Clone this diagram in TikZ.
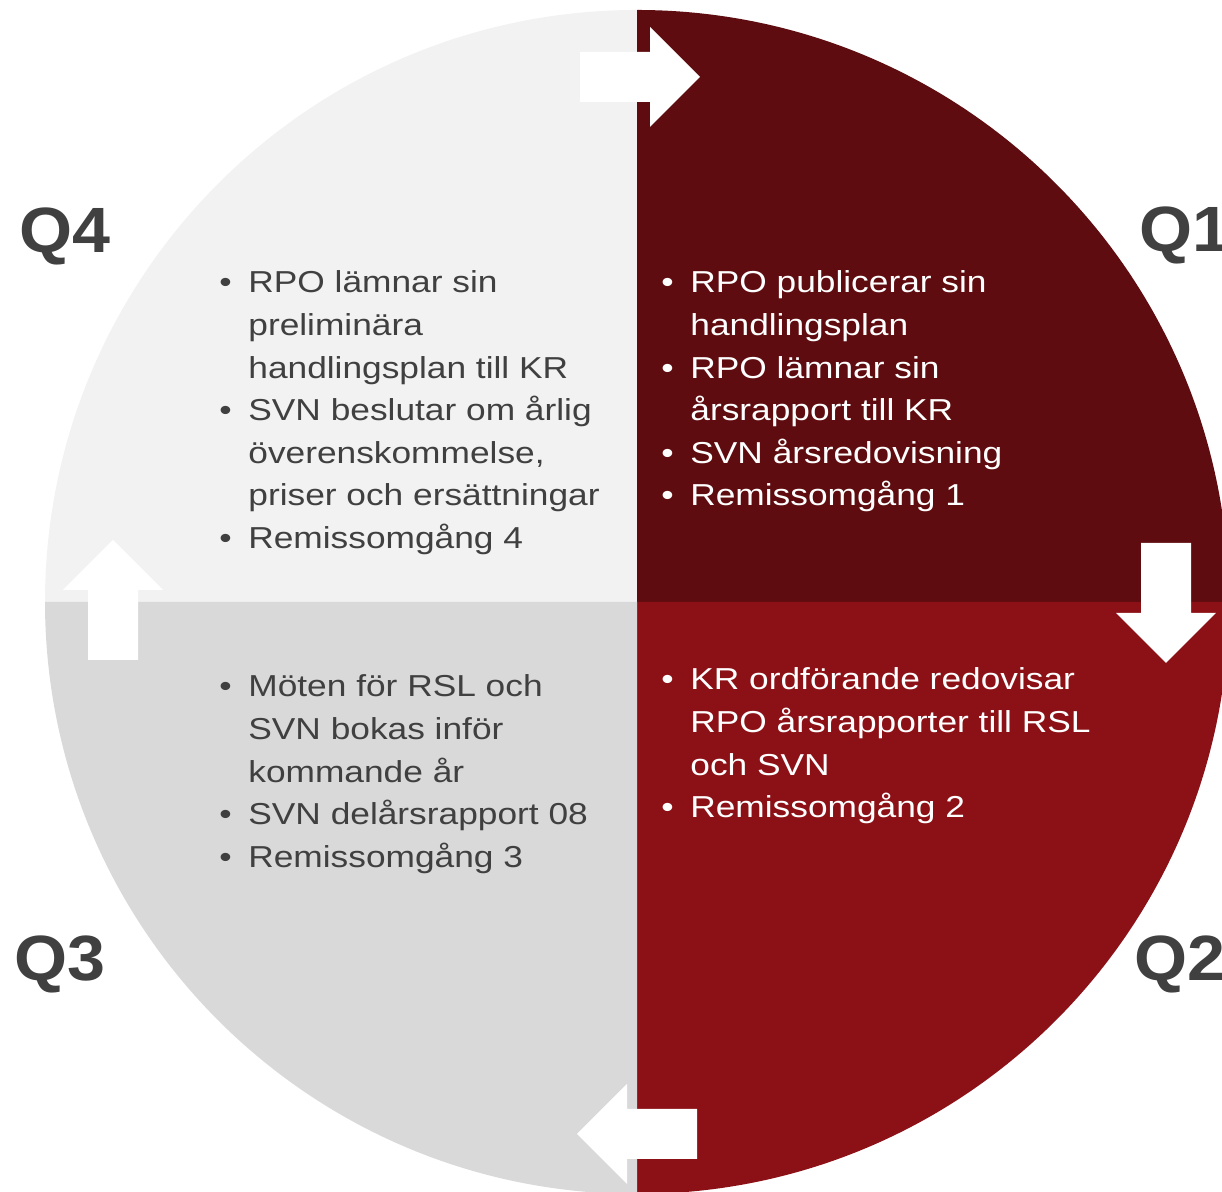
\documentclass[tikz,border=0pt]{standalone}
\usepackage{fontspec}
\setmainfont{Liberation Sans}[FakeStretch=1.165]
\newfontfamily\qfont{Liberation Sans}[FakeStretch=1.066]
\definecolor{qone}{HTML}{5E0C0F}
\definecolor{qtwo}{HTML}{8C1116}
\definecolor{qthree}{HTML}{D9D9D9}
\definecolor{qfour}{HTML}{F2F2F2}
\definecolor{txtgray}{HTML}{404040}
\tikzstyle{qlabel}=[anchor=base west, inner sep=0pt, text=txtgray, font={\qfont\bfseries\fontsize{32}{38}\selectfont}]
\tikzstyle{qtext}=[anchor=base west, inner sep=0pt, font={\fontsize{15.15}{21.3}\selectfont}]
\tikzstyle{blockarrow}=[fill=white]
\newcommand{\blt}{\textbullet}

\begin{document}
\begin{tikzpicture}[x=0.5pt,y=0.5pt]
	\useasboundingbox (0,0) rectangle (1222,1192);
	\clip (0,0) rectangle (1222,1192);
	\coordinate (O) at (637,590);
	\fill[qfour] (O) -- ++(-592,0) arc[start angle=180, end angle=90, radius=592] -- cycle;
	\fill[qone] (O) -- ++(0,592) arc[start angle=90, end angle=0, radius=592] -- cycle;
	\fill[qtwo] (O) -- ++(592,0) arc[start angle=0, end angle=-90, radius=592] -- cycle;
	\fill[qthree] (O) -- ++(0,-592) arc[start angle=270, end angle=180, radius=592] -- cycle;
	\foreach \ax/\ay/\rot in {640/1115/0, 1166/589/-90, 637/58/180, 113/592/90}
		\fill[blockarrow, shift={(\ax,\ay)}, rotate=\rot] (-60,-25) -- (10,-25) -- (10,-50) -- (60,0) -- (10,50) -- (10,25) -- (-60,25) -- cycle;
	\node[qlabel] (Q4) at (19,939) {Q4};
	\node[qlabel] (Q1) at (1139,940) {Q1};
	\node[qlabel] (Q3) at (14,211) {Q3};
	\node[qlabel] (Q2) at (1134,211) {Q2};
	\node[qtext, text=txtgray] (q4text) at (219,899) {\begin{tabular}[t]{@{}p{14.5pt}@{}l@{}}
		\blt & RPO lämnar sin\\
		& preliminära\\
		& handlingsplan till KR\\
		\blt & SVN beslutar om årlig\\
		& överenskommelse,\\
		& priser och ersättningar\\
		\blt & Remissomgång 4
	\end{tabular}};
	\node[qtext, text=white] (q1text) at (661,899) {\begin{tabular}[t]{@{}p{14.5pt}@{}l@{}}
		\blt & RPO publicerar sin\\
		& handlingsplan\\
		\blt & RPO lämnar sin\\
		& årsrapport till KR\\
		\blt & SVN årsredovisning\\
		\blt & Remissomgång 1
	\end{tabular}};
	\node[qtext, text=txtgray] (q3text) at (219,495) {\begin{tabular}[t]{@{}p{14.5pt}@{}l@{}}
		\blt & Möten för RSL och\\
		& SVN bokas inför\\
		& kommande år\\
		\blt & SVN delårsrapport 08\\
		\blt & Remissomgång 3
	\end{tabular}};
	\node[qtext, text=white] (q2text) at (661,502) {\begin{tabular}[t]{@{}p{14.5pt}@{}l@{}}
		\blt & KR ordförande redovisar\\
		& RPO årsrapporter till RSL\\
		& och SVN\\
		\blt & Remissomgång 2
	\end{tabular}};
\end{tikzpicture}
\end{document}
